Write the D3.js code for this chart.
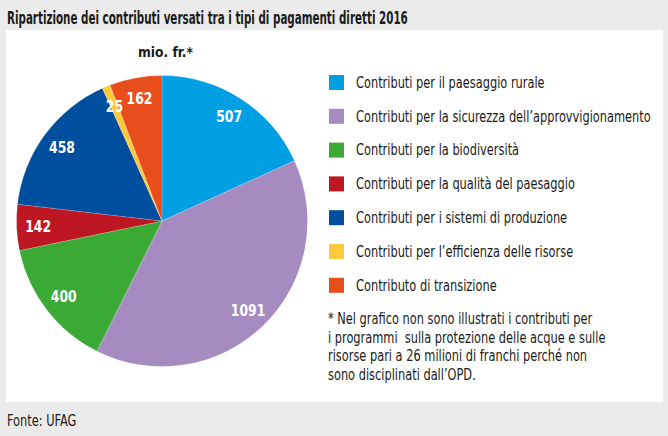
<!DOCTYPE html>
<html>
<head>
<meta charset="utf-8">
<script src="https://cdn.jsdelivr.net/npm/d3@7"></script>
<style>
  html, body { margin: 0; padding: 0; background: #ebebeb; }
  svg { display: block; }
  text { font-family: "DejaVu Sans Condensed", "Noto Sans", sans-serif; }
</style>
</head>
<body>
<svg id="chart" width="668" height="436"></svg>
<script>
const categories = [
  "Contributi per il paesaggio rurale",
  "Contributi per la sicurezza dell\u2019approvvigionamento",
  "Contributi per la biodiversità",
  "Contributi per la qualità del paesaggio",
  "Contributi per i sistemi di produzione",
  "Contributi per l\u2019efficienza delle risorse",
  "Contributo di transizione"
];
const values = [507, 1091, 400, 142, 458, 25, 162];
const colors = ["#009fe3", "#a68bc1", "#3aaa35", "#be1622", "#004f9f", "#fec93d", "#e84e1b"];
const titleText = "Ripartizione dei contributi versati tra i tipi di pagamenti diretti 2016";
const unitText = "mio. fr.*";
const footnoteLines = [
  "* Nel grafico non sono illustrati i contributi per",
  "i programmi  sulla protezione delle acque e sulle",
  "risorse pari a 26 milioni di franchi perché non",
  "sono disciplinati dall\u2019OPD."
];
const sourceText = "Fonte: UFAG";

const svg = d3.select("#chart");

// place a text at (x,y), horizontally condensed by factor k via scale transform
function placeText(parent, x, y, str, size, weight, fill, k) {
  const t = parent.append("text")
    .attr("x", 0).attr("y", 0)
    .attr("font-size", size).attr("font-weight", weight || "normal")
    .attr("fill", fill || "#1a1a1a")
    .style("white-space", "pre")
    .text(str);
  t.attr("transform", `translate(${x},${y}) scale(${k},1)`);
  return t;
}
function naturalWidth(parent, str, size, weight) {
  const t = parent.append("text").attr("font-size", size).attr("font-weight", weight || "normal")
    .style("white-space", "pre").text(str);
  const w = t.node().getComputedTextLength();
  t.remove();
  return w;
}

// white panel
svg.append("rect").attr("x", 6).attr("y", 30).attr("width", 657).attr("height", 372).attr("fill", "#ffffff");

// title
const kTitle = 401 / naturalWidth(svg, titleText, 18, "bold");
placeText(svg, 7, 24, titleText, 18, "bold", "#1a1a1a", kTitle);

// unit
const kUnit = 55 / naturalWidth(svg, unitText, 13.5, "bold");
placeText(svg, 138, 57, unitText, 13.5, "bold", "#1a1a1a", kUnit);

// pie
const cx = 162, cy = 221, R = 145.5;
const pie = d3.pie().sort(null).value(d => d)(values);
const arc = d3.arc().innerRadius(0).outerRadius(R);
const labelArc = d3.arc().innerRadius(124).outerRadius(124);

const g = svg.append("g").attr("transform", `translate(${cx},${cy})`);
g.selectAll("path").data(pie).join("path")
  .attr("d", arc)
  .attr("fill", (d, i) => colors[i])
  .attr("stroke", "#ffffff").attr("stroke-width", 0.5).attr("stroke-opacity", 0.35);

g.selectAll("text.lbl").data(pie).join("text")
  .attr("class", "lbl")
  .attr("transform", d => { const c = labelArc.centroid(d); return `translate(${c[0]},${c[1]}) scale(0.92,1)`; })
  .attr("text-anchor", "middle").attr("dy", "0.36em")
  .attr("font-size", 15).attr("font-weight", "bold").attr("fill", "#ffffff")
  .text(d => d.data);

// legend
const legSize = 15.5;
const kLeg = 295 / naturalWidth(svg, categories[1], legSize, "normal");
const lx = 329, ly0 = 75, lstep = 33.8;
const leg = svg.append("g");
categories.forEach((c, i) => {
  const y = ly0 + i * lstep;
  leg.append("rect").attr("x", lx).attr("y", y).attr("width", 15).attr("height", 15).attr("fill", colors[i]);
  placeText(leg, 356, y + 12.8, c, legSize, "normal", "#1a1a1a", kLeg);
});

// footnote
const foot = svg.append("g");
footnoteLines.forEach((t, i) => {
  placeText(foot, 328, 324 + i * 18.5, t, legSize, "normal", "#1a1a1a", kLeg);
});

// source
placeText(svg, 7, 426, sourceText, legSize, "normal", "#1a1a1a", kLeg);
</script>
</body>
</html>
